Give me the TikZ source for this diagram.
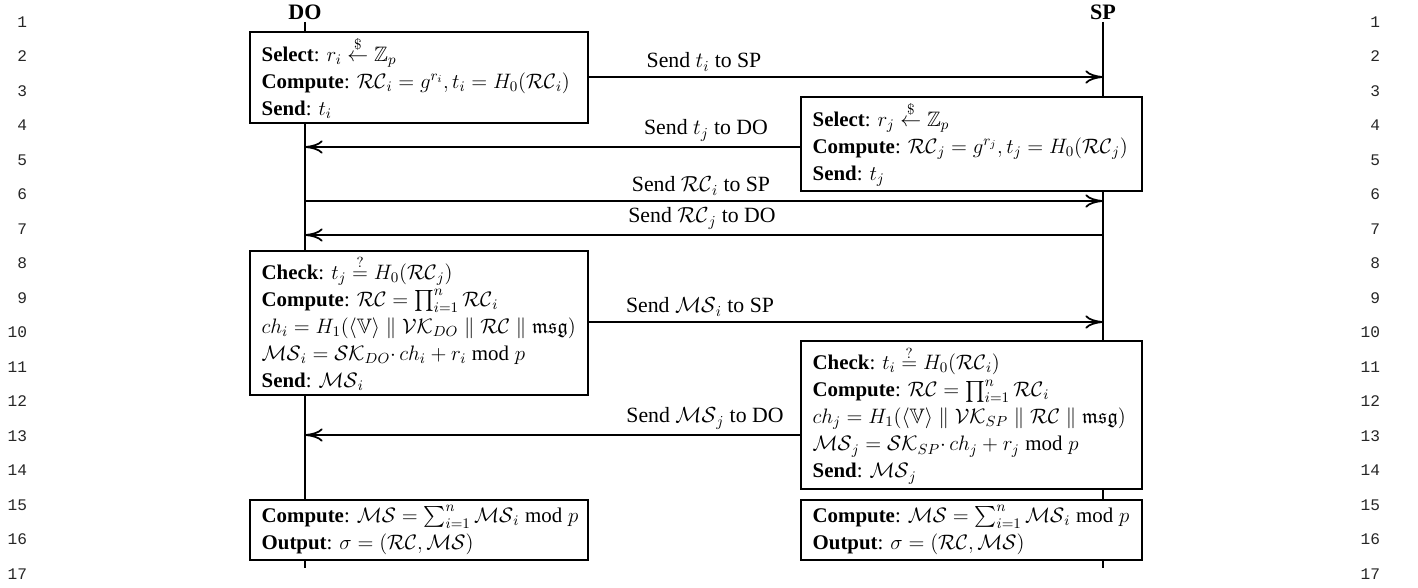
\RequirePackage{fix-cm}
\documentclass[tikz,border=0pt]{standalone}
\usepackage{amsmath}
\usepackage{amssymb}
\usepackage{fontspec}
\setmainfont{Liberation Serif}
\setmonofont{Liberation Mono}
\usetikzlibrary{arrows.meta,positioning}

\begin{document}
\begin{tikzpicture}[
		x=0.68pt, y=-0.68pt,
		line width=1.2pt,
		>={To[length=12pt,width=9pt]},
		party/.style={
			font=\fontsize{15}{17}\selectfont\bfseries, inner sep=1pt
		},
		stepbox/.style={
			draw, fill=white, anchor=north west, align=left, inner xsep=8pt, inner ysep=3pt, font=\fontsize{14.2}{18.4}\selectfont\frenchspacing
		},
		dobox/.style={stepbox, text width=214pt},
		spbox/.style={stepbox, text width=216pt},
		msgtext/.style={
			anchor=south, inner sep=2pt, font=\fontsize{14.8}{17}\selectfont
		},
		lineno/.style={
			anchor=east, inner sep=0pt, text=black!85, font=\fontsize{11}{13}\selectfont\ttfamily
		},
		]
		\useasboundingbox (0,0) rectangle (1418,588);
		
		% line numbers
		\foreach \n in {1,...,17} {
			\node [lineno] (lnl\n) at (28,{22+34.5*(\n-1)}) {\n};
			\node [lineno] (lnr\n) at (1381,{22+34.5*(\n-1)}) {\n};
		}
		
		% parties and lifelines
		\node [party] (do) at (305,12) {DO};
		\node [party] (sp) at (1103,12) {SP};
		\coordinate (doend) at (305,568);
		\coordinate (spend) at (1103,568);
		\draw (do) -- (doend);
		\draw (sp) -- (spend);
		
		% commitments
		\node [dobox, minimum height=61.2pt] (dosel) at (249,31) {\textbf{Select}: $r_i \stackrel{\$}{\leftarrow} \mathbb{Z}_p$\\
			\mbox{\textbf{Compute}: $\mathcal{RC}_i = g^{r_i}, t_i = H_0(\mathcal{RC}_i)$}\\
			\textbf{Send}: $t_i$};
		\node [spbox, minimum height=61.2pt] (spsel) at (800,96) {\textbf{Select}: $r_j \stackrel{\$}{\leftarrow} \mathbb{Z}_p$\\
			\mbox{\textbf{Compute}: $\mathcal{RC}_j = g^{r_j}, t_j = H_0(\mathcal{RC}_j)$}\\
			\textbf{Send}: $t_j$};
		
		% partial signatures
		\node [dobox, minimum height=97.2pt] (dosig) at (249,250) {\textbf{Check}: $t_j \stackrel{?}{=} H_0(\mathcal{RC}_j)$\\
			\textbf{Compute}: $\mathcal{RC} = \prod_{i=1}^{n}\mathcal{RC}_i$\\
			\mbox{$ch_i = H_1(\langle\mathbb{V}\rangle \parallel \mathcal{VK}_{DO} \parallel \mathcal{RC} \parallel \mathfrak{msg})$}\\
			\mbox{$\mathcal{MS}_i = \mathcal{SK}_{DO}{\cdot}\,ch_i + r_i \bmod p$}\\
			\textbf{Send}: $\mathcal{MS}_i$};
		\node [spbox, minimum height=100.6pt] (spsig) at (800,340) {\textbf{Check}: $t_i \stackrel{?}{=} H_0(\mathcal{RC}_i)$\\
			\textbf{Compute}: $\mathcal{RC} = \prod_{i=1}^{n}\mathcal{RC}_i$\\
			\mbox{$ch_j = H_1(\langle\mathbb{V}\rangle \parallel \mathcal{VK}_{SP} \parallel \mathcal{RC} \parallel \mathfrak{msg})$}\\
			\mbox{$\mathcal{MS}_j = \mathcal{SK}_{SP}{\cdot}\,ch_j + r_j \bmod p$}\\
			\textbf{Send}: $\mathcal{MS}_j$};
		
		% aggregation
		\node [dobox, minimum height=40.8pt] (doout) at (249,499) {\mbox{\textbf{Compute}: $\mathcal{MS} = \sum_{i=1}^{n}\mathcal{MS}_i \bmod p$}\\
			\textbf{Output}: $\sigma = (\mathcal{RC}, \mathcal{MS})$};
		\node [spbox, minimum height=40.8pt] (spout) at (800,499) {\mbox{\textbf{Compute}: $\mathcal{MS} = \sum_{i=1}^{n}\mathcal{MS}_i \bmod p$}\\
			\textbf{Output}: $\sigma = (\mathcal{RC}, \mathcal{MS})$};
		
		% messages
		\coordinate (sp1) at (1103,77);
		\coordinate (do2) at (305,147);
		\coordinate (do3) at (305,201);
		\coordinate (sp3) at (1103,201);
		\coordinate (do4) at (305,235);
		\coordinate (sp4) at (1103,235);
		\coordinate (sp5) at (1103,322);
		\coordinate (do6) at (305,435);
		\draw [->] (dosel.east |- sp1) -- (sp1);
		\draw [->] (spsel.west |- do2) -- (do2);
		\draw [->] (do3) -- (sp3);
		\draw [->] (sp4) -- (do4);
		\draw [->] (dosig.east |- sp5) -- (sp5);
		\draw [->] (spsig.west |- do6) -- (do6);
		\node [msgtext] (m1) at (704,75) {Send $t_i$ to SP};
		\node [msgtext] (m2) at (706,145) {Send $t_j$ to DO};
		\node [msgtext] (m3) at (701,199) {Send $\mathcal{RC}_i$ to SP};
		\node [msgtext] (m4) at (702,233) {Send $\mathcal{RC}_j$ to DO};
		\node [msgtext] (m5) at (700,320) {Send $\mathcal{MS}_i$ to SP};
		\node [msgtext] (m6) at (705,433) {Send $\mathcal{MS}_j$ to DO};
		
	\end{tikzpicture}
\end{document}
